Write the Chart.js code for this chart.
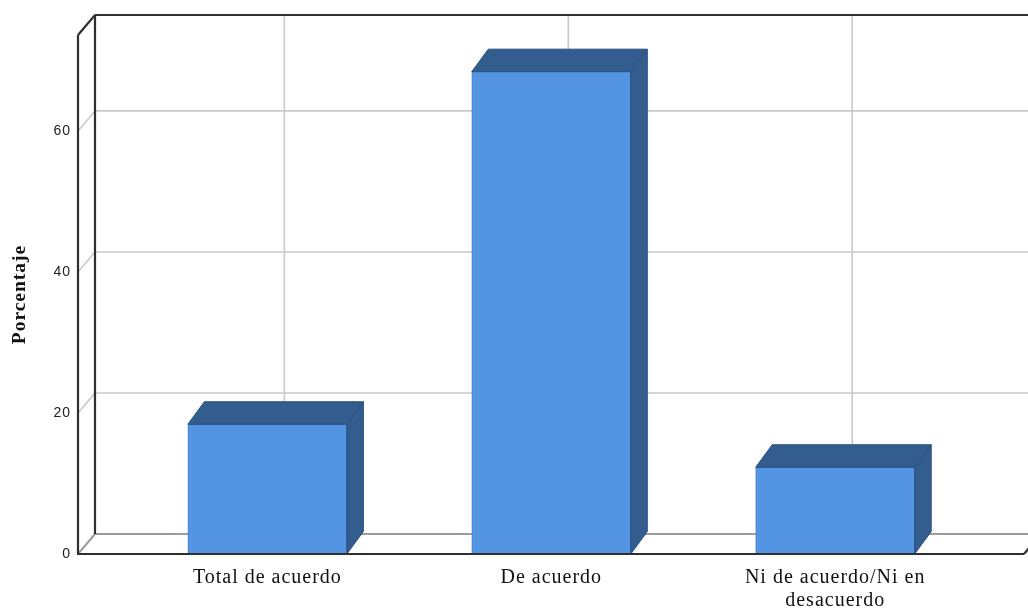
<!DOCTYPE html>
<html><head><meta charset="utf-8">
<script src="https://cdn.jsdelivr.net/npm/chart.js@4/dist/chart.umd.min.js"></script>
<style>html,body{margin:0;padding:0;background:#fff;overflow:hidden}#wrap{width:1028px;height:610px}</style>
</head><body><div id="wrap"><canvas id="c" width="1028" height="610"></canvas></div>
<script>
const categories = ['Total de acuerdo', 'De acuerdo', ['Ni de acuerdo/Ni en', 'desacuerdo']];
const values = [18.4, 68.4, 12.3];
const yTickValues = [0, 20, 40, 60];
const yMax = 73.6;
const xMin = -0.667, xMax = 2.665;
const yTitle = 'Porcentaje';

const DXW = 17, DYW = 20;      // depth of back wall
const DXB = 16.5, DYB = 22.5;  // depth of bars

function seg(ctx, x1, y1, x2, y2) { ctx.beginPath(); ctx.moveTo(x1, y1); ctx.lineTo(x2, y2); ctx.stroke(); }

const frame3d = {
  id: 'frame3d',
  beforeDraw(chart) { chart.ctx.letterSpacing = '1px'; },
  beforeDatasetsDraw(chart) {
    const {ctx, chartArea: a, scales: {x, y}} = chart;
    ctx.save();
    ctx.letterSpacing = '0px';
    ctx.lineCap = 'butt';
    ctx.strokeStyle = '#c9c9c9'; ctx.lineWidth = 1.6;
    x.ticks.forEach(t => {
      const px = x.getPixelForValue(t.value) + DXW;
      seg(ctx, px, a.top - DYW, px, a.bottom - DYW);
    });
    yTickValues.filter(v => v > 0).forEach(v => {
      const py = y.getPixelForValue(v);
      seg(ctx, a.left, py, a.left + DXW, py - DYW);
      seg(ctx, a.left + DXW, py - DYW, a.right + DXW, py - DYW);
    });
    ctx.strokeStyle = '#9c9c9c'; ctx.lineWidth = 2;
    seg(ctx, a.left, a.bottom, a.left + DXW, a.bottom - DYW);
    seg(ctx, a.left + DXW, a.bottom - DYW, a.right + DXW, a.bottom - DYW);
    ctx.strokeStyle = '#2f2f2f'; ctx.lineWidth = 2.2;
    seg(ctx, a.left + DXW, a.top - DYW, a.left + DXW, a.bottom - DYW);
    seg(ctx, a.left + DXW, a.top - DYW, a.right + DXW + 20, a.top - DYW);
    seg(ctx, a.left, a.top, a.left + DXW, a.top - DYW);
    ctx.restore();
  },
  afterDatasetsDraw(chart) {
    const {ctx, chartArea: a} = chart;
    ctx.save();
    ctx.letterSpacing = '0px';
    const meta = chart.getDatasetMeta(0);
    meta.data.forEach(el => {
      const p = el.getProps(['x', 'y', 'base', 'width'], true);
      const l = p.x - p.width / 2, r = p.x + p.width / 2;
      ctx.fillStyle = '#335c8f';
      ctx.strokeStyle = '#2b4f7d';
      ctx.lineWidth = 1;
      ctx.beginPath();
      ctx.moveTo(l, p.y); ctx.lineTo(l + DXB, p.y - DYB); ctx.lineTo(r + DXB, p.y - DYB); ctx.lineTo(r, p.y);
      ctx.closePath(); ctx.fill(); ctx.stroke();
      ctx.beginPath();
      ctx.moveTo(r, p.y); ctx.lineTo(r + DXB, p.y - DYB); ctx.lineTo(r + DXB, p.base - DYB); ctx.lineTo(r, p.base);
      ctx.closePath(); ctx.fill(); ctx.stroke();
    });
    ctx.strokeStyle = '#2f2f2f'; ctx.lineWidth = 2.2;
    seg(ctx, a.left, a.top, a.left, a.bottom);
    seg(ctx, a.left - 1, a.bottom, a.right, a.bottom);
    seg(ctx, a.right, a.bottom, a.right + DXW, a.bottom - DYW);
    ctx.restore();
  }
};

new Chart(document.getElementById('c'), {
  type: 'bar',
  data: {
    datasets: [{
      data: values.map((v, i) => ({x: i, y: v})),
      backgroundColor: '#5495e3',
      borderColor: '#4a80c4',
      borderWidth: 1,
      barThickness: 159
    }]
  },
  options: {
    responsive: false,
    animation: false,
    layout: {padding: {top: 35, right: 4, left: 0, bottom: 0}},
    plugins: {legend: {display: false}, tooltip: {enabled: false}},
    scales: {
      x: {
        type: 'linear',
        offset: false,
        min: xMin, max: xMax,
        grid: {display: false, drawTicks: false},
        border: {display: false},
        afterBuildTicks: s => { s.ticks = categories.map((c, i) => ({value: i})); },
        afterFit: s => { s.height = 56; },
        ticks: {
          autoSkip: false, maxRotation: 0, minRotation: 0,
          padding: 12.5,
          color: '#111',
          font: {family: '"Liberation Serif", "Times New Roman", serif', size: 20, lineHeight: 1.13},
          callback: v => categories[Math.round(v)]
        }
      },
      y: {
        type: 'linear',
        min: 0, max: yMax,
        grid: {display: false, drawTicks: false},
        border: {display: false},
        afterBuildTicks: s => { s.ticks = yTickValues.map(v => ({value: v})); },
        afterFit: s => { s.width = 78; },
        ticks: {
          padding: 7,
          color: '#222',
          font: {family: '"Liberation Sans", Arial, sans-serif', size: 14}
        },
        title: {
          display: true,
          text: yTitle,
          color: '#111',
          padding: {top: 8.5, bottom: 0},
          font: {family: '"Liberation Serif", "Times New Roman", serif', size: 19.5, weight: 'bold', lineHeight: 1.2}
        }
      }
    }
  },
  plugins: [frame3d]
});
</script>
</body></html>
